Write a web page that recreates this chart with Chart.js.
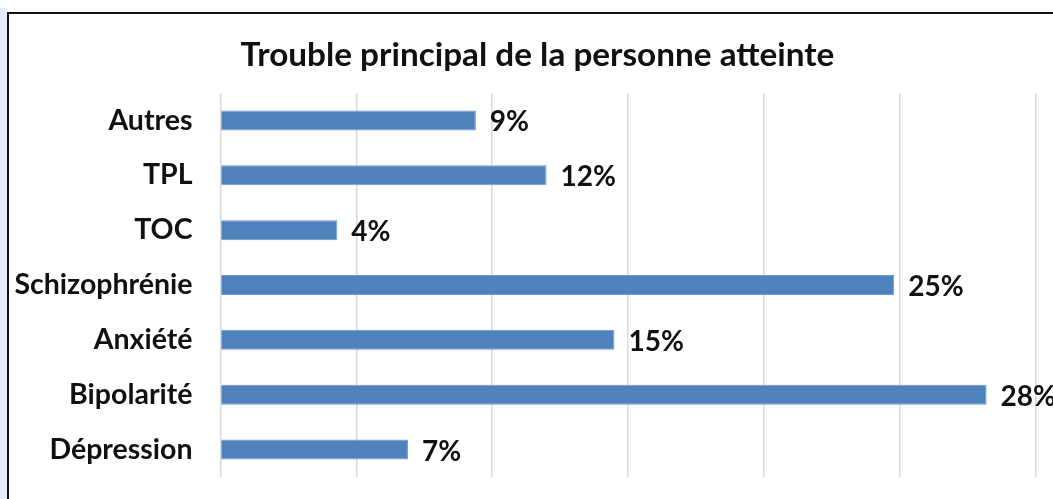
<!DOCTYPE html>
<html lang="fr">
<head>
    <meta charset="UTF-8">
    <title>Trouble principal</title>
    <script src="https://cdn.jsdelivr.net/npm/chart.js@4.4.1/dist/chart.umd.min.js"></script>
    <style>
        html, body {margin: 0; padding: 0; background: #fff; width: 1053px; height: 499px; overflow: hidden;}
        #strip {position: absolute; left: 0; top: 8px; width: 7px; height: 491px; background: #e2ecfb;}
        #frame {position: absolute; left: 7px; top: 12px; right: 0; bottom: 0; border-top: 2px solid #111; border-left: 2px solid #111;}
        #box {position: absolute; left: 9px; top: 14px; width: 1044px; height: 485px;}
    </style>
</head>
<body>
    <div id="strip"></div>
    <div id="frame"></div>
    <div id="box"><canvas id="barChart"></canvas></div>

    <script>
        // categories top to bottom, as in the picture
        const categories = ['Autres', 'TPL', 'TOC', 'Schizophrénie', 'Anxiété', 'Bipolarité', 'Dépression'];
        const shares = [9.4, 12.0, 4.3, 24.8, 14.5, 28.2, 6.9];
        const shareLabels = ['9%', '12%', '4%', '25%', '15%', '28%', '7%'];
        const chartTitle = 'Trouble principal de la personne atteinte';

        const FONT = 'Lato, "Open Sans", sans-serif';

        // title (centred on the whole frame, not the plot) + values at the end of each bar
        const textLayer = {
            id: 'textLayer',
            afterDatasetsDraw(chart) {
                const ctx = chart.ctx;
                const xs = chart.scales.x, ys = chart.scales.y;
                ctx.save();
                ctx.fillStyle = '#111';
                ctx.textBaseline = 'middle';

                ctx.font = 'bold 33.3px ' + FONT;
                ctx.textAlign = 'center';
                ctx.fillText(chartTitle, chart.width / 2 + 6.5, 41.5);

                ctx.font = 'bold 28px ' + FONT;
                ctx.textAlign = 'left';
                shares.forEach(function (v, i) {
                    ctx.fillText(shareLabels[i], xs.getPixelForValue(v) + 14, ys.getPixelForValue(i) + 2);
                });
                ctx.restore();
            }
        };

        new Chart(document.getElementById('barChart'), {
            type: 'bar',
            data: {
                labels: categories,
                datasets: [{
                    data: shares,
                    backgroundColor: '#4f81bd',
                    borderColor: '#6f98cc',
                    borderWidth: 1,
                    barPercentage: 0.365,
                    categoryPercentage: 1
                }]
            },
            options: {
                indexAxis: 'y',
                responsive: true,
                maintainAspectRatio: false,
                animation: false,
                layout: {padding: {top: 79, right: 17.5, bottom: 22, left: 0}},
                plugins: {
                    legend: {display: false},
                    tooltip: {enabled: false},
                    title: {display: false}
                },
                scales: {
                    x: {
                        min: 0,
                        max: 30,
                        ticks: {display: false, stepSize: 5},
                        grid: {color: '#d9d9d9', lineWidth: 1.5, drawTicks: false},
                        border: {display: false},
                        afterFit(scale) { scale.height = 0; }
                    },
                    y: {
                        ticks: {color: '#111', font: {family: FONT, size: 28.5, weight: 'bold'}, padding: 28},
                        grid: {display: false, drawTicks: false},
                        border: {display: false},
                        afterFit(scale) {
                            scale.width = 211.5;
                            scale.paddingTop = 0;
                            scale.paddingBottom = 0;
                        }
                    }
                }
            },
            plugins: [textLayer]
        });
    </script>
</body>
</html>
